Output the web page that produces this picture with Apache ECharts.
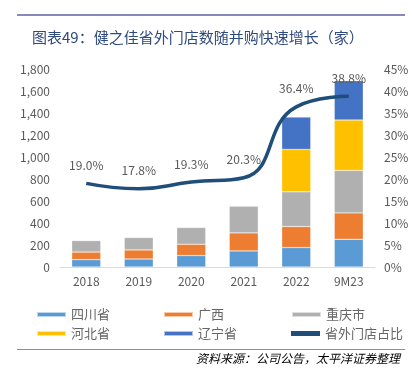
<!DOCTYPE html>
<html><head><meta charset="utf-8">
<script src="https://cdn.jsdelivr.net/npm/echarts@6/dist/echarts.min.js"></script>
<style>html,body{margin:0;padding:0;background:#fff}#c{width:412px;height:375px}</style>
</head><body><div id="c"></div>
<script>
const categories = ['2018','2019','2020','2021','2022','9M23'];
const sichuan  = [67, 73, 104, 146, 177, 252];
const guangxi  = [69, 82, 103, 164, 191, 240];
const chongqing = [104, 113, 152, 243, 315, 386];
const hebei    = [0, 0, 0, 0, 386, 458];
const liaoning = [0, 0, 0, 0, 294, 358];
const shareRatio = [19.0, 17.8, 19.3, 20.3, 36.4, 38.8];
const seriesNames = ['四川省','广西','重庆市','河北省','辽宁省','省外门店占比'];
const colors = ['#5B9BD5','#ED7D31','#B0B0B0','#FFC000','#4472C4','#1F4E79'];

const font = '"Noto Sans CJK SC", sans-serif';
const gray = '#595959';
const chart = echarts.init(document.getElementById('c'));

const barData = [sichuan, guangxi, chongqing, hebei, liaoning];
const series = barData.map((d, i) => ({
  name: seriesNames[i], type: 'bar', stack: 'total', barWidth: 29,
  itemStyle: { color: colors[i], borderColor: 'rgba(255,255,255,0.6)', borderWidth: 0.5 },
  data: d.map(v => v === 0 ? null : v)
}));
series.push({
  name: seriesNames[5], type: 'line', yAxisIndex: 1, smooth: true,
  symbol: 'circle', symbolSize: 0, showSymbol: true, showAllSymbol: true,
  lineStyle: { color: colors[5], width: 3.5 }, itemStyle: { color: colors[5] },
  data: shareRatio,
  label: { show: true, position: 'top', distance: 12, color: gray, fontSize: 12, fontFamily: font,
    formatter: p => p.value.toFixed(1) + '%' }
});

const legendPos = [[36,308],[163,308],[291,308],[36,327],[163,327],[291,327]];
const legends = seriesNames.map((n, i) => ({
  data: [{ name: n, icon: 'rect' }], left: legendPos[i][0], top: legendPos[i][1],
  itemWidth: 29, itemHeight: 5, itemGap: 5, padding: 0,
  textStyle: { color: '#666', fontSize: 13, fontFamily: font, padding: [0,0,0,0] }
}));

chart.setOption({
  animation: false,
  color: colors,
  title: { text: '图表49：健之佳省外门店数随并购快速增长（家）', left: 27, top: 25,
    textStyle: { color: '#2F4A7E', fontSize: 15, fontWeight: 'normal', fontFamily: font } },
  legend: legends,
  grid: { left: 60, right: 37, top: 69, bottom: 108 },
  xAxis: { type: 'category', data: categories,
    axisLine: { lineStyle: { color: '#D9D9D9' } }, axisTick: { show: false },
    axisLabel: { color: gray, fontSize: 12, fontFamily: font, margin: 8 } },
  yAxis: [
    { type: 'value', min: 0, max: 1800, interval: 200, splitLine: { show: false },
      axisLabel: { color: gray, fontSize: 12, fontFamily: font, margin: 10,
        formatter: v => v.toLocaleString('en-US') } },
    { type: 'value', min: 0, max: 45, interval: 5, splitLine: { show: false },
      axisLabel: { color: gray, fontSize: 12, fontFamily: font, margin: 9, formatter: '{value}%' } }
  ],
  series: series,
  graphic: [
    { type: 'rect', shape: { x: 17, y: 14, width: 388, height: 2 }, style: { fill: '#8A8AB8' } },
    { type: 'rect', shape: { x: 17, y: 349, width: 388, height: 1 }, style: { fill: '#8A8AB8' } },
    { type: 'text', right: 12, top: 352, style: { text: '资料来源：公司公告，太平洋证券整理',
      fill: '#000', font: 'italic 12px "Noto Sans CJK SC", sans-serif' } }
  ]
});
</script></body></html>
